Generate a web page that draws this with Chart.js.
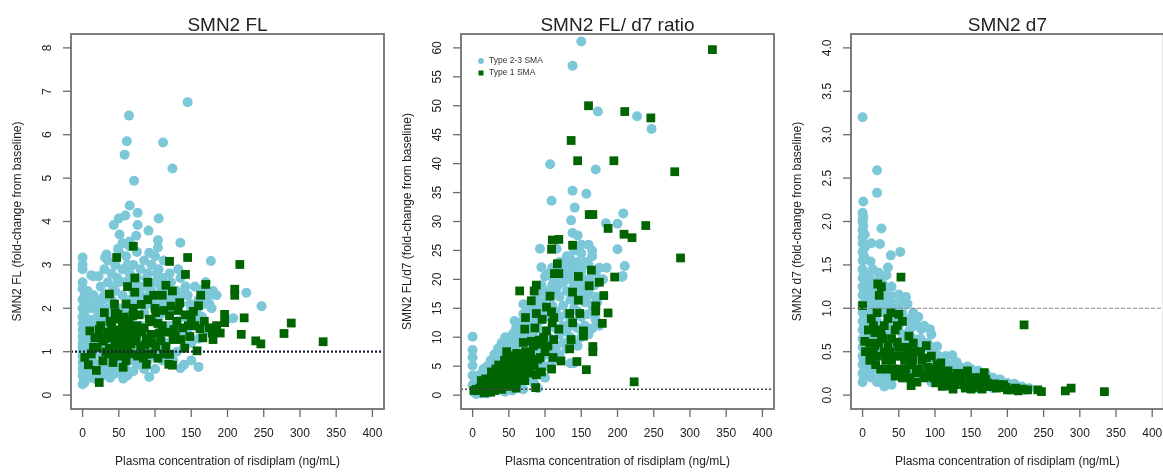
<!DOCTYPE html>
<html>
<head>
<meta charset="utf-8">
<script src="https://cdn.jsdelivr.net/npm/chart.js@4"></script>
<style>
  html, body { margin: 0; padding: 0; background: #fff; overflow: hidden; }
  canvas { position: absolute; left: 0; top: 0; }
</style>
</head>
<body>
<canvas id="fl" width="1170" height="474"></canvas>
<canvas id="ratio" width="1170" height="474"></canvas>
<canvas id="d7" width="1170" height="474"></canvas>
<script>
// x axis is the same on all three panels
const concTicks = [0, 50, 100, 150, 200, 250, 300, 350, 400];

const flTicks = [0, 1, 2, 3, 4, 5, 6, 7, 8];
const flLabels = ['0', '1', '2', '3', '4', '5', '6', '7', '8'];
const ratioTicks = [0, 5, 10, 15, 20, 25, 30, 35, 40, 45, 50, 55, 60];
const ratioLabels = ['0', '5', '10', '15', '20', '25', '30', '35', '40', '45', '50', '55', '60'];
const d7Ticks = [0, 0.5, 1, 1.5, 2, 2.5, 3, 3.5, 4];
const d7Labels = ['0.0', '0.5', '1.0', '1.5', '2.0', '2.5', '3.0', '3.5', '4.0'];

// [risdiplam ng/mL, fold-change] - Type 2/3 SMA, SMN2 FL
const fl23 = [
  [0,0.25],[0,0.45],[0,0.6],[0,0.75],[0,0.9],[0,1.0],[0,1.1],[0,1.2],[0,1.35],[0,1.5],[0,1.65],[0,1.8],[0,2.0],[0,2.2],[0,2.45],[0,2.6],[0,2.9],[0,3.0],[0,3.17],
  [2,0.35],[2,0.8],[2,1.3],[2,1.9],[5,0.5],[5,1.0],[5,1.6],[5,2.1],[8,0.7],[8,1.2],[8,1.75],
  [12,0.4],[12,0.9],[12,1.4],[12,2.0],[12,2.76],[15,0.6],[15,1.1],[15,1.6],[15,2.3],[15,2.74],
  [20,0.5],[20,1.0],[20,1.3],[20,1.8],[20,2.2],[22,2.74],[25,0.7],[25,1.2],[25,1.6],[25,2.0],[25,2.5],
  [30,0.5],[30,0.9],[30,1.4],[30,1.8],[30,2.3],[30,2.9],[31,3.17],[33,3.24],[35,0.8],[35,1.2],[35,2.0],[35,2.6],[35,3.1],
  [40,0.6],[40,1.0],[40,1.6],[40,2.2],[40,2.8],[45,0.5],[45,1.3],[45,1.8],[45,2.4],[45,3.0],
  [50,0.7],[50,1.1],[50,1.5],[50,2.0],[50,2.6],[50,3.3],[55,0.9],[55,1.7],[55,2.3],[55,2.9],[55,3.5],
  [60,0.6],[60,1.2],[60,2.0],[60,2.6],[60,3.2],[65,0.8],[65,1.5],[65,2.2],[65,2.8],[65,3.43],
  [70,1.0],[70,1.8],[70,2.4],[70,3.0],[75,0.7],[75,1.3],[75,2.1],[75,2.7],[75,3.3],
  [80,0.9],[80,1.6],[80,2.3],[80,2.9],[85,1.1],[85,1.9],[85,2.5],[85,3.1],
  [90,0.8],[90,1.4],[90,2.1],[90,2.8],[92,3.28],[95,1.0],[95,1.7],[95,2.4],[95,3.0],
  [100,0.9],[100,1.3],[100,2.0],[100,2.6],[100,3.2],[104,3.4],[105,1.1],[105,1.8],[105,2.3],[105,2.9],
  [110,0.8],[110,1.5],[110,2.1],[110,2.7],[115,1.2],[115,1.9],[115,2.5],
  [120,0.9],[120,1.6],[120,2.2],[120,2.8],[125,1.3],[125,2.0],[130,1.0],[130,1.7],[130,2.4],
  [135,1.4],[135,2.1],[135,2.7],[140,1.1],[140,1.8],[145,1.5],[145,2.3],[150,1.2],[150,2.0],
  [155,1.6],[155,2.5],[160,1.3],[160,2.2],[165,1.8],[170,1.5],[170,2.6],[175,2.1],[180,2.4],
  [3,0.6],[3,1.45],[3,2.3],[6,0.8],[6,1.4],[7,2.4],[10,0.5],[10,1.0],[10,1.6],[10,2.2],
  [14,0.8],[17,1.3],[18,2.0],[22,0.7],[23,1.5],[27,0.9],[28,2.2],[32,0.7],[33,1.6],[38,1.9],
  [42,2.5],[48,2.7],[52,0.55],[58,2.6],[62,3.0],[68,2.6],[72,2.2],[78,2.5],[82,2.1],[88,2.7],
  [92,2.3],[98,2.2],[102,2.8],[108,2.5],[112,3.1],[118,2.4],[122,2.6],[128,2.2],[132,2.9],[138,2.3],
  [142,2.5],[148,2.1],[152,1.8],[158,1.9],[162,1.7],[168,2.1],[172,2.3],[178,2.0],[185,2.3],[117,0.8],
  [140,0.7],[150,0.8],[20,0.35],[28,0.45],[38,0.4],[62,0.45],[70,0.55],[85,0.6],[100,0.6],[125,0.8],
  [145,6.75],[64,6.44],[61,5.85],[58,5.54],[111,5.82],[124,5.22],[71,4.94],[65,4.37],[76,4.2],[59,4.14],
  [50,4.07],[43,3.92],[105,4.07],[76,3.92],[91,3.79],[51,3.7],[74,3.67],[65,3.54],[104,3.57],[135,3.51],
  [49,3.37],[177,3.09],[226,2.36],[247,2.05],[208,1.77],[199,1.75],[180,2.32],[166,2.44],
  [160,0.65],[135,0.62],[92,0.42],[56,0.38],[3,0.3],[1,0.5]
];

// Type 1 SMA, SMN2 FL
const fl1 = [
  [70,3.43],[47,3.17],[145,3.17],[120,3.08],[217,3.01],[142,2.78],[72,2.7],[170,2.55],[62,2.5],[90,2.6],
  [115,2.53],[124,2.4],[210,2.44],[210,2.3],[163,2.3],[110,2.3],[37,2.33],[72,2.37],[134,2.13],[81,2.09],
  [160,2.06],[153,1.93],[30,1.9],[49,1.86],[69,1.83],[101,1.9],[120,1.83],[196,1.86],[223,1.78],[196,1.67],
  [288,1.66],[40,1.69],[95,1.69],[146,1.6],[162,1.53],[10,1.48],[23,1.51],[46,1.43],[79,1.48],[106,1.43],
  [126,1.51],[179,1.43],[190,1.43],[219,1.4],[278,1.42],[17,1.32],[28,1.24],[39,1.32],[63,1.28],[72,1.24],
  [88,1.3],[125,1.28],[136,1.28],[166,1.32],[180,1.28],[239,1.25],[246,1.18],[332,1.23],[37,1.08],[51,1.12],
  [67,1.18],[101,1.12],[115,1.12],[141,1.08],[3,0.87],[28,0.79],[44,0.94],[53,0.9],[88,0.94],[120,0.94],
  [158,1.02],[56,0.64],[88,0.71],[119,0.71],[124,0.69],[19,0.57],[23,0.29],
  [40,1.5],[55,1.6],[60,1.4],[45,1.2],[58,1.0],[65,1.55],[50,1.35],[35,1.45],[75,1.6],[85,1.55],
  [95,1.4],[110,1.6],[100,2.0],[130,1.7],[150,1.75],[60,2.1],[45,1.9],[80,1.1],[90,2.2],[52,1.75],
  [20,1.1],[25,1.6],[30,1.3],[32,1.0],[38,1.7],[42,1.4],[44,2.1],[48,1.0],[52,1.5],[54,1.2],
  [57,1.8],[62,1.1],[64,1.7],[68,1.45],[70,2.0],[74,1.3],[78,1.85],[82,1.45],[86,1.15],[92,1.75],
  [96,1.2],[98,2.3],[104,1.65],[108,1.25],[112,1.95],[116,1.45],[122,2.05],[128,1.35],[132,1.95],[138,1.55],
  [142,1.85],[148,1.35],[155,1.6],[168,1.7],[175,1.55],[185,1.6],[36,0.95],[42,0.75],[60,0.8],[66,0.95],
  [76,0.9],[84,0.85],[96,0.95],[104,0.85],[112,0.95],[26,1.35],[15,1.1],[12,0.95],[8,0.7]
];

// Type 2/3 SMA, SMN2 FL/d7 ratio
const ratio23 = [
  [150,61.1],[138,56.9],[173,49.0],[227,48.2],[247,46.0],[107,39.9],[170,39.0],[138,35.3],[157,34.8],[109,33.6],
  [141,32.4],[208,31.4],[136,30.2],[184,29.7],[200,29.6],[138,28.0],[145,27.6],[93,25.3],[200,25.2],[116,25.3],
  [210,22.3],[95,22.1],[206,20.4],[0,10.1],[0,7.8],[0,6.5],[0,5.1],[0,3.4],[0,1.7],[70,15.7],[58,12.8],[40,8.8],
  [2,0.5],[2,1.0],[2,2.0],[5,0.6],[5,1.5],[5,3.0],[10,0.8],[10,2.0],[10,3.5],
  [15,0.4],[15,1.2],[15,2.5],[15,4.5],[20,0.3],[20,1.5],[20,3.0],[20,5.0],
  [25,0.6],[25,2.0],[25,4.0],[25,6.0],[30,1.0],[30,2.5],[30,5.0],[30,7.0],
  [35,0.8],[35,3.0],[35,6.0],[35,8.0],[40,1.5],[40,4.0],[40,7.0],[40,9.0],
  [45,0.6],[45,2.5],[45,5.5],[45,8.5],[45,10.0],[50,1.0],[50,3.5],[50,6.5],[50,9.5],
  [55,0.8],[55,2.0],[55,4.5],[55,7.5],[55,10.5],[60,3.0],[60,5.5],[60,8.5],[60,11.5],
  [65,2.0],[65,4.0],[65,7.0],[65,10.0],[65,12.5],[70,3.0],[70,6.0],[70,9.0],[70,12.0],[70,14.0],
  [75,4.0],[75,7.5],[75,10.5],[75,13.5],[75,15.5],[80,3.0],[80,5.0],[80,8.5],[80,12.0],[80,15.0],
  [85,6.0],[85,10.0],[85,13.5],[85,16.5],[90,1.2],[90,5.0],[90,8.0],[90,11.5],[90,15.0],[90,17.5],
  [95,6.5],[95,9.5],[95,13.0],[95,16.0],[95,19.0],[100,5.0],[100,8.0],[100,11.0],[100,14.5],[100,18.0],[100,20.5],
  [105,7.0],[105,10.0],[105,13.5],[105,17.0],[105,21.0],[110,6.0],[110,9.0],[110,12.0],[110,15.5],[110,19.0],[110,22.0],
  [115,8.0],[115,11.5],[115,14.5],[115,18.0],[115,21.5],[120,7.0],[120,10.5],[120,13.5],[120,17.0],[120,20.0],[120,23.0],
  [125,9.0],[125,12.0],[125,15.5],[125,19.5],[125,22.5],[130,8.0],[130,11.0],[130,14.0],[130,18.0],[130,21.0],[130,24.0],
  [135,5.5],[135,10.0],[135,13.0],[135,16.5],[135,20.0],[135,23.5],[140,9.0],[140,12.0],[140,15.0],[140,19.0],[140,22.0],[140,25.0],
  [145,8.5],[145,11.5],[145,14.5],[145,18.5],[145,23.0],[150,10.0],[150,13.5],[150,17.0],[150,21.5],[150,24.5],
  [155,12.0],[155,16.0],[155,20.0],[155,23.0],[160,10.5],[160,14.0],[160,18.0],[160,22.5],
  [165,11.5],[165,15.5],[165,19.5],[165,24.0],[170,13.0],[170,17.0],[170,21.0],[175,12.0],[175,22.0],
  [150,26.0],[160,26.0],[165,25.0],[180,20.0],[185,22.0],[207,20.6],
  [5,0.2],[8,1.2],[12,0.3],[18,2.0],[22,0.8],[28,3.5],[32,1.2],[38,4.5],[42,2.5],[48,6.0],
  [52,8.0],[58,10.0],[62,9.5],[68,11.0],[72,13.0],[78,11.5],[82,14.0],[88,12.5],[92,14.0],[98,15.5],
  [102,17.0],[108,18.0],[112,20.0],[118,19.0],[122,21.5],[128,20.5],[132,22.5],[138,21.0],[142,20.0],[148,19.5],
  [152,18.5],[158,17.0],[162,20.0],[168,19.0],[172,16.0],[140,5.5],[120,6.5],[100,3.0],[85,2.0],[70,1.0]
];

// Type 1 SMA, SMN2 FL/d7 ratio
const ratio1 = [
  [331,59.7],[160,50.0],[210,49.0],[246,47.9],[136,44.0],[145,40.5],[195,40.5],[279,38.6],[161,31.2],[166,31.2],
  [239,29.3],[187,28.8],[209,27.8],[220,27.2],[110,26.8],[119,26.9],[109,25.2],[138,25.9],[287,23.7],[117,22.7],
  [113,21.0],[119,21.0],[164,21.6],[196,20.4],[146,20.5],[161,18.9],[175,19.5],[88,19.0],[65,18.0],[85,18.0],
  [107,17.1],[138,17.8],[181,17.2],[81,16.3],[146,16.4],[102,15.2],[170,15.4],[88,14.1],[109,14.4],[134,14.1],
  [148,14.1],[170,14.5],[187,14.2],[73,13.4],[96,13.1],[112,13.4],[179,12.4],[110,12.5],[138,12.5],[72,11.4],
  [86,11.6],[102,11.1],[119,11.4],[153,11.1],[70,9.1],[81,9.3],[95,8.8],[112,9.6],[136,9.6],[153,10.2],
  [134,8.0],[166,8.4],[166,7.5],[47,7.5],[79,7.1],[93,6.5],[111,6.5],[122,5.9],[144,5.8],[157,4.4],
  [109,4.5],[87,1.3],[223,2.3],
  [10,1.2],[15,1.8],[20,1.0],[22,2.2],[25,1.5],[28,3.0],[30,2.0],[32,4.5],[35,1.2],[35,3.5],
  [38,2.5],[40,5.0],[42,1.8],[44,3.2],[45,4.2],[48,2.4],[50,5.8],[50,1.5],[52,3.8],[55,2.8],
  [55,6.5],[58,4.5],[60,2.0],[62,5.2],[65,3.5],[68,6.0],[70,4.5],[72,2.5],[75,5.5],[78,3.8],
  [80,7.0],[85,5.0],[90,6.2],[95,4.0],[100,7.5],[5,1.0],[2,0.8],[18,0.7],[12,2.5],[30,0.8],
  [8,0.8],[12,1.5],[15,0.9],[18,2.8],[22,1.2],[25,2.6],[26,4.0],[28,1.0],[32,2.0],[33,3.2],
  [36,5.2],[38,1.6],[40,3.0],[42,4.0],[44,6.0],[46,2.0],[47,3.5],[50,4.5],[52,2.5],[53,6.8],
  [56,3.5],[57,5.5],[60,4.0],[61,7.2],[63,2.8],[64,6.3],[66,4.8],[70,3.0],[73,7.5],[76,4.5],
  [82,5.5],[84,8.5],[88,3.5],[92,9.5],[98,10.0],[104,8.5],[60,1.2],[40,1.0],[25,0.5],[16,0.4]
];

// Type 2/3 SMA, SMN2 d7
const d723 = [
  [0,3.2],[20,2.59],[20,2.33],[1,2.23],[0,2.1],[0,2.02],[0,1.9],[0,1.82],[12,1.75],[24,1.74],
  [26,1.92],[39,1.61],[52,1.65],[11,1.54],[35,1.47],[22,1.41],[12,1.3],[28,1.28],[39,1.14],[50,1.16],
  [60,1.13],[77,0.9],[81,0.76],[93,0.76],[67,0.89],[103,0.56],[124,0.46],[135,0.32],[145,0.33],
  [0,0.15],[0,0.25],[0,0.35],[0,0.45],[0,0.55],[0,0.65],[0,0.75],[0,0.85],[0,0.95],[0,1.05],
  [0,1.15],[0,1.25],[0,1.35],[0,1.45],[0,1.55],[0,1.65],[0,1.75],[0,2.0],
  [2,0.2],[2,0.4],[2,0.6],[2,0.8],[2,1.0],[2,1.2],[2,1.4],[2,1.6],[5,0.3],[5,0.5],[5,0.7],[5,0.9],[5,1.1],[5,1.3],
  [8,0.25],[8,0.55],[8,0.8],[8,1.0],[8,1.2],[12,0.3],[12,0.6],[12,0.9],[12,1.1],[16,0.4],[16,0.7],[16,1.0],[16,1.2],
  [20,0.3],[20,0.55],[20,0.85],[20,1.05],[25,0.25],[25,0.5],[25,0.8],[25,1.0],[25,1.2],
  [30,0.2],[30,0.45],[30,0.7],[30,0.95],[30,1.1],[35,0.25],[35,0.6],[35,0.85],[35,1.05],
  [40,0.2],[40,0.5],[40,0.75],[40,1.0],[45,0.3],[45,0.6],[45,0.85],[50,0.25],[50,0.5],[50,0.8],[50,1.0],
  [55,0.2],[55,0.45],[55,0.7],[55,0.95],[60,0.3],[60,0.6],[60,0.85],[65,0.25],[65,0.5],[65,0.75],
  [70,0.2],[70,0.4],[70,0.65],[75,0.3],[75,0.55],[75,0.8],[80,0.2],[80,0.45],[80,0.65],[85,0.3],[85,0.55],
  [90,0.2],[90,0.4],[90,0.6],[95,0.15],[95,0.35],[95,0.5],[100,0.25],[100,0.45],[110,0.15],[110,0.3],[110,0.4],
  [120,0.1],[120,0.25],[120,0.35],[130,0.15],[130,0.3],[140,0.1],[140,0.22],[150,0.12],[150,0.25],
  [160,0.08],[160,0.2],[170,0.1],[170,0.18],[180,0.08],[180,0.15],[190,0.1],[200,0.07],[210,0.08],[225,0.06],
  [3,0.25],[3,1.7],[3,1.85],[1,1.95],[1,2.05],[10,1.35],[14,1.45],[18,1.25],[24,1.35],[30,1.2],
  [33,1.38],[40,1.25],[45,1.05],[55,1.1],[62,1.05],[70,0.95],[72,0.8],[85,0.8],[95,0.7],[100,0.55],
  [105,0.45],[115,0.45],[130,0.38],[150,0.3],[160,0.28],[170,0.25],[180,0.2],[190,0.18],[200,0.14],[210,0.13],
  [220,0.1],[230,0.08],[13,0.2],[20,0.15],[40,0.12],[30,0.1]
];

// Type 1 SMA, SMN2 d7
const d71 = [
  [0,1.03],[3,0.62],[4,0.5],[21,1.28],[23,1.15],[53,1.36],[12,0.88],[35,0.88],[39,0.95],[50,0.93],
  [223,0.81],[17,0.72],[26,0.68],[17,0.57],[35,0.57],[48,0.61],[64,0.68],[88,0.57],[12,0.45],[25,0.3],
  [40,0.4],[53,0.45],[69,0.41],[88,0.43],[108,0.37],[112,0.27],[45,0.22],[67,0.11],[74,0.26],[88,0.22],
  [101,0.14],[120,0.11],[136,0.17],[149,0.19],[156,0.09],[168,0.26],[166,0.11],[182,0.13],[193,0.09],[211,0.08],
  [221,0.07],[242,0.06],[247,0.04],[280,0.05],[288,0.08],[334,0.04],
  [30,0.8],[45,0.75],[55,0.85],[60,0.55],[70,0.6],[80,0.5],[95,0.45],[100,0.3],[115,0.2],[125,0.15],
  [130,0.25],[140,0.12],[145,0.28],[155,0.2],[160,0.14],[170,0.18],[175,0.1],[185,0.08],[195,0.12],[200,0.06],
  [110,0.1],[125,0.07],[150,0.07],[60,0.3],[50,0.55],[40,0.65],[30,0.5],[20,0.45],[35,0.3],[55,0.2],
  [75,0.15],[90,0.32],[105,0.2],
  [10,0.6],[15,0.8],[18,0.35],[22,0.6],[28,0.65],[32,0.4],[38,0.5],[42,0.3],[45,0.45],[48,0.8],
  [52,0.3],[58,0.4],[62,0.5],[65,0.2],[68,0.35],[72,0.5],[78,0.3],[82,0.4],[85,0.2],[92,0.25],
  [98,0.2],[103,0.35],[108,0.25],[112,0.18],[118,0.28],[122,0.2],[128,0.12],[132,0.2],[138,0.25],[142,0.08],
  [148,0.15],[152,0.1],[158,0.17],[162,0.2],[165,0.07],[172,0.14],[178,0.1],[188,0.12],[198,0.09],[205,0.06],
  [215,0.05],[228,0.06],[15,0.5],[25,0.75],[10,0.4],[8,0.75],[20,0.95],[26,1.25]
];

const BLUE = '#7cc7d8';
const GREEN = '#006400';
const FONT = '"Liberation Sans", Arial, sans-serif';

// base-graphics style frame, axes and labels
const rAxes = {
  id: 'rAxes',
  afterDraw(chart, args, o) {
    const { ctx, chartArea: a, scales: { x, y } } = chart;
    ctx.save();

    // reference line at fold-change 1
    const ry = y.getPixelForValue(1);
    ctx.strokeStyle = o.refColor;
    ctx.lineWidth = o.refWidth;
    ctx.setLineDash(o.refDash);
    ctx.beginPath();
    ctx.moveTo(a.left, ry);
    ctx.lineTo(a.right, ry);
    ctx.stroke();
    ctx.setLineDash([]);

    // box
    ctx.strokeStyle = '#7d7d7d';
    ctx.lineWidth = 2;
    ctx.strokeRect(a.left, a.top, a.right - a.left, a.bottom - a.top);

    ctx.fillStyle = '#222';
    ctx.strokeStyle = '#6a6a6a';
    ctx.lineWidth = 1.3;
    ctx.font = '12px ' + FONT;
    ctx.textAlign = 'center';
    ctx.textBaseline = 'middle';

    concTicks.forEach(v => {
      const px = x.getPixelForValue(v);
      ctx.beginPath();
      ctx.moveTo(px, a.bottom);
      ctx.lineTo(px, a.bottom + 8);
      ctx.stroke();
      ctx.fillText(String(v), px, a.bottom + 25);
    });

    o.ticks.forEach((v, i) => {
      const py = y.getPixelForValue(v);
      ctx.beginPath();
      ctx.moveTo(a.left - 8, py);
      ctx.lineTo(a.left, py);
      ctx.stroke();
      ctx.save();
      ctx.translate(a.left - 23, py);
      ctx.rotate(-Math.PI / 2);
      ctx.fillText(o.labels[i], 0, 0);
      ctx.restore();
    });

    const cx = (a.left + a.right) / 2;
    ctx.fillText('Plasma concentration of risdiplam (ng/mL)', cx, 462);

    ctx.save();
    ctx.translate(a.left - 53, (a.top + a.bottom) / 2);
    ctx.rotate(-Math.PI / 2);
    ctx.fillText(o.yTitle, 0, 0);
    ctx.restore();

    ctx.font = '19px ' + FONT;
    ctx.textBaseline = 'alphabetic';
    ctx.fillText(o.title, cx, 31);

    if (o.legend) {
      ctx.font = '8.5px ' + FONT;
      ctx.textAlign = 'left';
      ctx.textBaseline = 'middle';
      const lx = a.left + 20;
      const items = [chart.data.datasets[1], chart.data.datasets[0]];
      items.forEach((ds, i) => {
        const ly = 61 + i * 12;
        ctx.fillStyle = ds.pointBackgroundColor;
        if (ds.pointStyle === 'rect') {
          ctx.fillRect(lx - 2.5, ly - 2.5, 5, 5);
        } else {
          ctx.beginPath();
          ctx.arc(lx, ly, 3, 0, Math.PI * 2);
          ctx.fill();
        }
        ctx.fillStyle = '#333';
        ctx.fillText(ds.label, lx + 8, ly);
      });
    }
    ctx.restore();
  }
};

const toPts = arr => arr.map(p => ({ x: p[0], y: p[1] }));

function panel(id, o) {
  new Chart(document.getElementById(id), {
    type: 'scatter',
    data: {
      datasets: [
        { label: 'Type 1 SMA', data: toPts(o.type1), pointStyle: 'rect', pointRadius: 6.2,
          pointBackgroundColor: GREEN, pointBorderWidth: 0 },
        { label: 'Type 2-3 SMA', data: toPts(o.type23), pointStyle: 'circle', pointRadius: 5,
          pointBackgroundColor: BLUE, pointBorderWidth: 0 }
      ]
    },
    options: {
      responsive: false,
      animation: false,
      devicePixelRatio: 1,
      layout: { padding: { left: o.left, right: 1170 - o.left - 313, top: 34, bottom: 474 - 409 } },
      scales: {
        x: { type: 'linear', min: -16, max: 416, display: false },
        y: { type: 'linear', min: o.yMin, max: o.yMax, display: false }
      },
      plugins: {
        legend: { display: false },
        tooltip: { enabled: false },
        rAxes: o.axes
      }
    },
    plugins: [rAxes]
  });
}

panel('fl', {
  left: 71, yMin: -0.32, yMax: 8.32, type1: fl1, type23: fl23,
  axes: { ticks: flTicks, labels: flLabels, title: 'SMN2 FL', yTitle: 'SMN2 FL (fold-change from baseline)',
          refColor: '#1c1c3c', refWidth: 2.2, refDash: [2, 2], legend: false }
});

panel('ratio', {
  left: 461, yMin: -2.4, yMax: 62.4, type1: ratio1, type23: ratio23,
  axes: { ticks: ratioTicks, labels: ratioLabels, title: 'SMN2 FL/ d7 ratio', yTitle: 'SMN2 FL/d7 (fold-change from baseline)',
          refColor: '#444', refWidth: 1.4, refDash: [2, 2], legend: true }
});

panel('d7', {
  left: 851, yMin: -0.16, yMax: 4.16, type1: d71, type23: d723,
  axes: { ticks: d7Ticks, labels: d7Labels, title: 'SMN2 d7', yTitle: 'SMN2 d7 (fold-change from baseline)',
          refColor: '#888', refWidth: 1.1, refDash: [4, 2], legend: false }
});
</script>
</body>
</html>
